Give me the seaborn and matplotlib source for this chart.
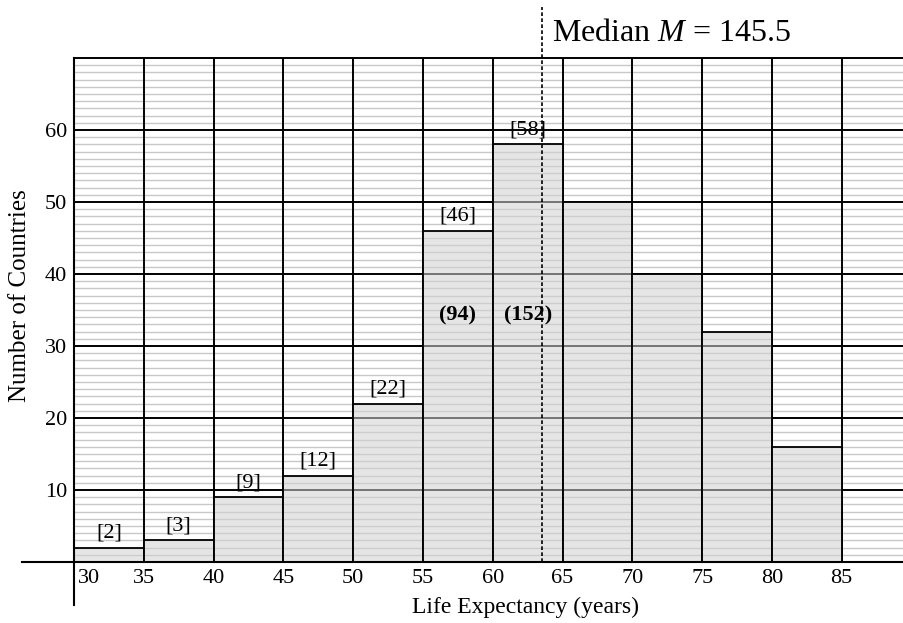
import numpy as np
import pandas as pd
import matplotlib
matplotlib.use("Agg")
import matplotlib.pyplot as plt
import matplotlib.transforms as mtransforms
import seaborn as sns

# data
bin_edges = [30, 35, 40, 45, 50, 55, 60, 65, 70, 75, 80, 85]
counts = [2, 3, 9, 12, 22, 46, 58, 50, 40, 32, 16]
x_ticks = [30, 35, 40, 45, 50, 55, 60, 65, 70, 75, 80, 85]
y_ticks = [10, 20, 30, 40, 50, 60]
n_labelled = 7            # bars with [count] on top
cum_label_bins = [5, 6]   # bins with the running total in bold
cum_label_y = 34.3
median_x = 63.5
median_text = "Median $M$ = 145.5"

centers = [(a + b) / 2 for a, b in zip(bin_edges[:-1], bin_edges[1:])]
cum = np.cumsum(counts)
df = pd.DataFrame({"life": centers, "count": counts})

sns.set_theme(style="white")
plt.rcParams["font.family"] = ["Liberation Serif", "DejaVu Serif"]
plt.rcParams["text.color"] = "black"
plt.rcParams["axes.labelcolor"] = "black"
plt.rcParams["mathtext.fontset"] = "custom"
plt.rcParams["mathtext.rm"] = "Liberation Serif"
plt.rcParams["mathtext.it"] = "Liberation Serif:italic"

fig = plt.figure(figsize=(9.04, 6.23), dpi=100)
ax = fig.add_axes([0, 0, 1, 1])
ax.set_facecolor("white")

# limits so the plot area sits where it does in the original
x_lo, x_hi = 24.70, 89.46
y_lo, y_hi = -8.47, 78.06
top = 70

# graph-paper grid
minor = [v for v in range(1, top) if v % 10 != 0]
ax.hlines(minor, 30, x_hi, color="#c8c8c8", lw=1.0, zorder=0)
ax.hlines(y_ticks + [top], 30, x_hi, color="black", lw=1.4, zorder=1)
ax.vlines(x_ticks[1:], 0, top, color="black", lw=1.4, zorder=1)

# histogram bars
sns.histplot(data=df, x="life", weights="count", bins=bin_edges, ax=ax)
for p in ax.patches:
    p.set_alpha(None)
    p.set_facecolor((0.82, 0.82, 0.82, 0.56))
    p.set_edgecolor("black")
    p.set_linewidth(1.3)
    p.set_zorder(2)

# [count] labels
for i in range(n_labelled):
    ax.text(centers[i], counts[i] + 0.7, f"[{counts[i]}]",
            ha="center", va="bottom", fontsize=16, zorder=4)

# running totals
for i in cum_label_bins:
    ax.text(centers[i], cum_label_y, f"({cum[i]})",
            ha="center", va="center", fontsize=16, fontweight="bold", zorder=4)

# median line
ax.vlines(median_x, 0, 77.1, color="black", lw=1.2,
          linestyles=(0, (2.2, 1.4)), zorder=3)
ax.text(median_x + 0.75, 72.36, median_text, ha="left", va="baseline",
        fontsize=23)

# axes crossing at (30, 0)
ax.set_xlim(x_lo, x_hi)
ax.set_ylim(y_lo, y_hi)
for s in ["top", "right"]:
    ax.spines[s].set_visible(False)
ax.spines["bottom"].set_position(("data", 0))
ax.spines["left"].set_position(("data", 30))
ax.spines["bottom"].set_bounds(26.3, x_hi)
ax.spines["left"].set_bounds(-6, top)
for s in ["bottom", "left"]:
    ax.spines[s].set_color("black")
    ax.spines[s].set_linewidth(1.5)
    ax.spines[s].set_zorder(5)

ax.set_xticks(x_ticks)
ax.set_yticks(y_ticks)
ax.tick_params(axis="both", length=0, labelsize=16, colors="black")
ax.tick_params(axis="x", pad=5)
ax.tick_params(axis="y", pad=5)
first = ax.get_xticklabels()[0]
first.set_horizontalalignment("left")
first.set_transform(first.get_transform() +
                    mtransforms.ScaledTranslation(3 / 72, 0, fig.dpi_scale_trans))

ax.set_xlabel("Life Expectancy (years)", fontsize=17, va="center")
ax.xaxis.set_label_coords(525 / 904, 1 - 607 / 623)
ax.set_ylabel("Number of Countries", fontsize=18, va="center", ha="center")
ax.yaxis.set_label_coords(20 / 904, 1 - 296 / 623)

fig.savefig("out.png", dpi=100)
